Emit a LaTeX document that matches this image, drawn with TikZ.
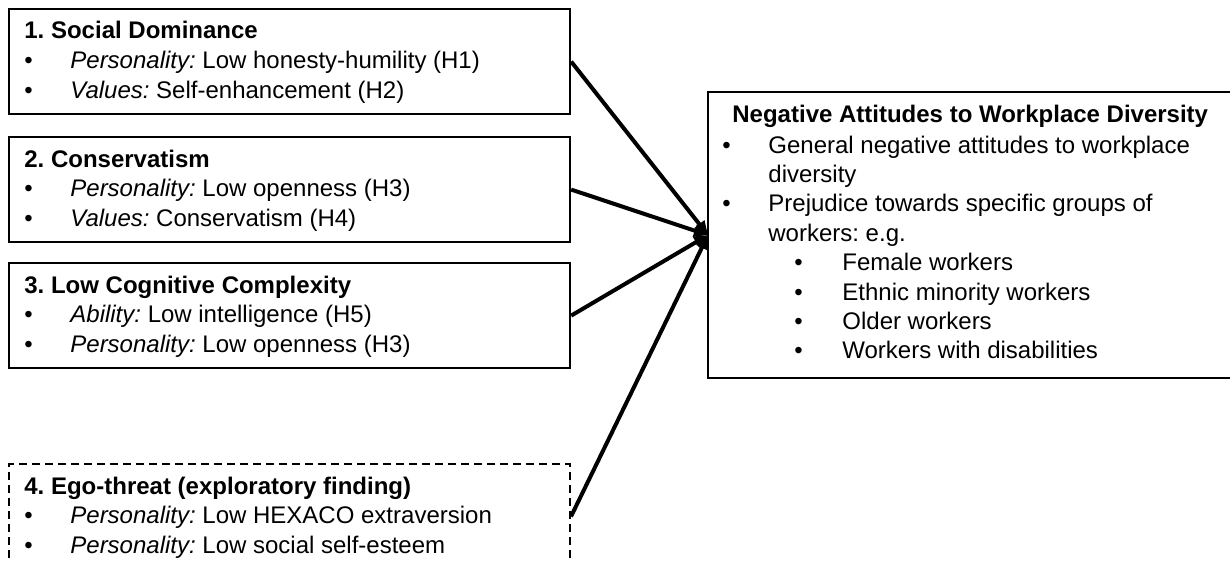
\documentclass[tikz,border=0pt]{standalone}
\usepackage{fontspec}
\setmainfont{Liberation Sans}
\usetikzlibrary{arrows.meta}
\frenchspacing
\begin{document}
\begin{tikzpicture}[x=0.5pt,y=-0.5pt,
  box/.style={draw=black, line width=1.1pt, minimum width=280.5pt, minimum height=52.5pt, anchor=north west, inner sep=0pt},
  dbox/.style={box, line width=1pt, dash pattern=on 4pt off 2.5pt},
  openbox/.style={line width=1.1pt},
  txt/.style={anchor=base west, inner sep=0pt, font=\fontsize{12}{14.75}\selectfont\frenchspacing},
  ttl/.style={anchor=base west, inner sep=0pt, font=\fontsize{12}{14.75}\selectfont\bfseries\frenchspacing},
  arr/.style={line width=2pt, -{Triangle[length=7pt,width=6pt]}}]
\useasboundingbox (0,0) rectangle (1230,562);

% boxes
\node[box] (b1) at (8,8) {};
\node[box] (b2) at (8,136) {};
\node[box] (b3) at (8,262) {};
\node[dbox] (b4) at (8,463) {};
\node[box, draw=none, minimum width=266pt, minimum height=142pt] (r) at (708,92) {};
\draw[openbox] (r.north east) -- (r.north west) -- (r.south west) -- (r.south east);

% box 1
\node[ttl] (t1) at (24,39) {1. Social Dominance};
\node[txt] (t1a) at (24,68.5) {•};
\node[txt] (t1b) at (70,68.5) {\itshape Personality:\upshape{} Low honesty-humility (H1)};
\node[txt] (t1c) at (24,98) {•};
\node[txt] (t1d) at (70,98) {\itshape Values:\upshape{} Self-enhancement (H2)};

% box 2
\node[ttl] (t2) at (24,167) {2. Conservatism};
\node[txt] (t2a) at (24,196.5) {•};
\node[txt] (t2b) at (70,196.5) {\itshape Personality:\upshape{} Low openness (H3)};
\node[txt] (t2c) at (24,226) {•};
\node[txt] (t2d) at (70,226) {\itshape Values:\upshape{} Conservatism (H4)};

% box 3
\node[ttl] (t3) at (24,293) {3. Low Cognitive Complexity};
\node[txt] (t3a) at (24,322.5) {•};
\node[txt] (t3b) at (70,322.5) {\itshape Ability:\upshape{} Low intelligence (H5)};
\node[txt] (t3c) at (24,352) {•};
\node[txt] (t3d) at (70,352) {\itshape Personality:\upshape{} Low openness (H3)};

% box 4
\node[ttl] (t4) at (24,494) {4. Ego-threat (exploratory finding)};
\node[txt] (t4a) at (24,523.5) {•};
\node[txt] (t4b) at (70,523.5) {\itshape Personality:\upshape{} Low HEXACO extraversion};
\node[txt] (t4c) at (24,553) {•};
\node[txt] (t4d) at (70,553) {\itshape Personality:\upshape{} Low social self-esteem};

% right box
\node[ttl] (rt) at (732,122) {Negative Attitudes to Workplace Diversity};
\node[txt] (ra) at (722,153) {•};
\node[txt] (rb) at (768,153) {General negative attitudes to workplace};
\node[txt] (rc) at (768,182.4) {diversity};
\node[txt] (rd) at (722,211.8) {•};
\node[txt] (re) at (768,211.8) {Prejudice towards specific groups of};
\node[txt] (rf) at (768,241.2) {workers: e.g.};
\node[txt] (rg1) at (794,270.6) {•};
\node[txt] (rg2) at (842,270.6) {Female workers};
\node[txt] (rh1) at (794,300) {•};
\node[txt] (rh2) at (842,300) {Ethnic minority workers};
\node[txt] (ri1) at (794,329.4) {•};
\node[txt] (ri2) at (842,329.4) {Older workers};
\node[txt] (rj1) at (794,358.8) {•};
\node[txt] (rj2) at (842,358.8) {Workers with disabilities};

% arrows
\draw[arr] (b1.east) -- (r.west);
\draw[arr] (b2.east) -- (r.west);
\draw[arr] (b3.east) -- (r.west);
\draw[arr] (b4.east) -- (r.west);
\end{tikzpicture}
\end{document}
